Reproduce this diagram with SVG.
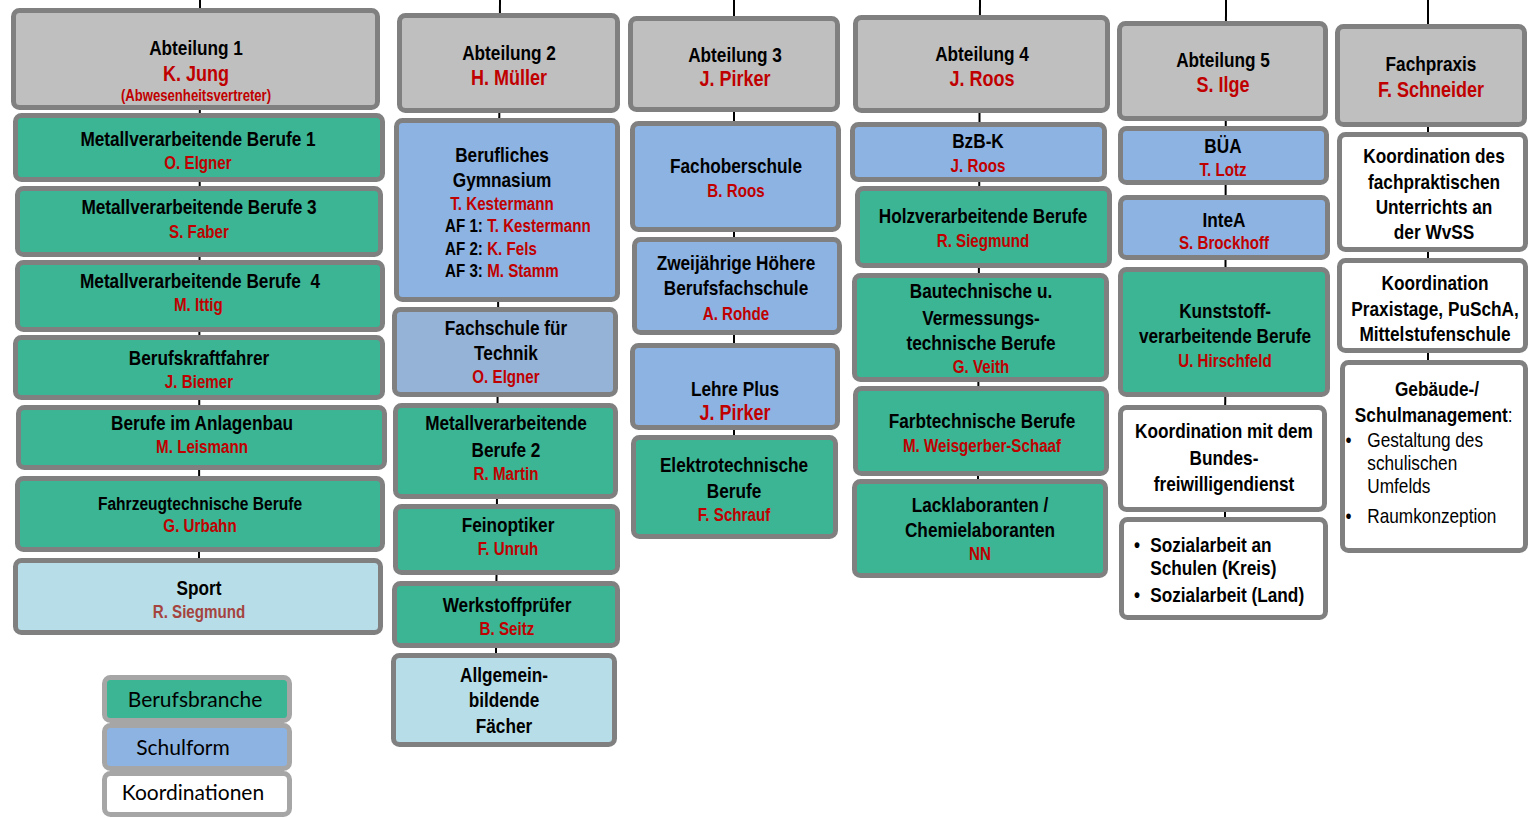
<svg xmlns="http://www.w3.org/2000/svg" width="1528" height="818" viewBox="0 0 1528 818">
<style>
text{font-family:"Liberation Sans Narrow","Arial Narrow","Liberation Sans",sans-serif;font-weight:bold;text-anchor:middle;fill:#000}
.b{stroke:#808080;stroke-width:5}
.g{fill:#BFBFBF}.gr{fill:#3BB594}.bl{fill:#8DB3E2}.bl2{fill:#95B3D7}.lb{fill:#B7DEE8}.w{fill:#FFFFFF}
.t{font-size:21px}.s{font-size:19px}
.h{font-size:22px;fill:#C00000}.n{font-size:18.5px;fill:#C00000}.r{fill:#C00000}
.sm{font-size:16px;fill:#C00000}
.lg{font-family:Lato,"Open Sans",sans-serif;font-weight:normal;font-size:21px}
.lgb{stroke:#A6A6A6;stroke-width:5}
.reg{font-weight:normal}
.l{text-anchor:start}
.c line{stroke:#000;stroke-width:2}
</style>
<g id="connectors" class="c">
<line x1="200" y1="0" x2="199" y2="560"/>
<line x1="500" y1="0" x2="496" y2="655"/>
<line x1="734" y1="0" x2="734" y2="437"/>
<line x1="980" y1="0" x2="978" y2="481"/>
<line x1="1226" y1="0" x2="1225" y2="519"/>
<line x1="1428" y1="0" x2="1428" y2="362"/>
</g>

<!-- Column 1 -->
<g id="abt1"><rect class="b g" x="13.5" y="10.5" width="364" height="97" rx="6"/>
<g transform="translate(196 0) scale(.82 1)"><text class="t" x="0" y="55">Abteilung 1</text><text class="h" x="0" y="81">K. Jung</text><text class="sm" x="0" y="101">(Abwesenheitsvertreter)</text></g></g>
<g id="mb1"><rect class="b gr" x="15.5" y="115.5" width="367" height="64" rx="6"/>
<g transform="translate(198 0) scale(.82 1)"><text class="t" x="0" y="146">Metallverarbeitende Berufe 1</text><text class="n" x="0" y="169">O. Elgner</text></g></g>
<g id="mb3"><rect class="b gr" x="17.5" y="188.5" width="363" height="66" rx="6"/>
<g transform="translate(199 0) scale(.82 1)"><text class="t" x="0" y="214">Metallverarbeitende Berufe 3</text><text class="n" x="0" y="238">S. Faber</text></g></g>
<g id="mb4"><rect class="b gr" x="17.5" y="262.5" width="365" height="67" rx="6"/>
<g transform="translate(200 0) scale(.82 1)"><text class="t" x="0" y="288" xml:space="preserve">Metallverarbeitende Berufe  4</text><text class="n" x="-2" y="311">M. Ittig</text></g></g>
<g id="bkf"><rect class="b gr" x="15.5" y="337.5" width="367" height="60" rx="6"/>
<g transform="translate(199 0) scale(.82 1)"><text class="t" x="0" y="365">Berufskraftfahrer</text><text class="n" x="0" y="388">J. Biemer</text></g></g>
<g id="anlagenbau"><rect class="b gr" x="18.5" y="407.5" width="366" height="60" rx="6"/>
<g transform="translate(202 0) scale(.82 1)"><text class="t" x="0" y="430">Berufe im Anlagenbau</text><text class="n" x="0" y="453">M. Leismann</text></g></g>
<g id="fahrzeug"><rect class="b gr" x="17.5" y="478.5" width="365" height="71" rx="6"/>
<g transform="translate(200 0) scale(.82 1)"><text class="s" x="0" y="510">Fahrzeugtechnische Berufe</text><text class="n" x="0" y="532">G. Urbahn</text></g></g>
<g id="sport"><rect class="b lb" x="15.5" y="560.5" width="365" height="72" rx="6"/>
<g transform="translate(199 0) scale(.82 1)"><text class="t" x="0" y="595">Sport</text><text class="n" x="0" y="618" style="fill:#A5443F">R. Siegmund</text></g></g>

<!-- Column 2 -->
<g id="abt2"><rect class="b g" x="399.5" y="15.5" width="218" height="95" rx="6"/>
<g transform="translate(509 0) scale(.82 1)"><text class="t" x="0" y="60">Abteilung 2</text><text class="h" x="0" y="85">H. Müller</text></g></g>
<g id="bg"><rect class="b bl" x="396.5" y="120.5" width="221" height="179" rx="6"/>
<g transform="translate(502 0) scale(.82 1)"><text class="t" x="0" y="162">Berufliches</text><text class="t" x="0" y="187">Gymnasium</text>
<text class="n" x="0" y="210">T. Kestermann</text>
<text class="n l" x="-69.5" y="232"><tspan style="fill:#000">AF 1: </tspan>T. Kestermann</text>
<text class="n l" x="-69.5" y="255"><tspan style="fill:#000">AF 2: </tspan>K. Fels</text>
<text class="n l" x="-69.5" y="277"><tspan style="fill:#000">AF 3: </tspan>M. Stamm</text></g></g>
<g id="fst"><rect class="b bl2" x="394.5" y="309.5" width="221" height="85" rx="6"/>
<g transform="translate(506 0) scale(.82 1)"><text class="t" x="0" y="335">Fachschule für</text><text class="t" x="0" y="360">Technik</text><text class="n" x="0" y="383">O. Elgner</text></g></g>
<g id="mb2"><rect class="b gr" x="395.5" y="405.5" width="220" height="91" rx="6"/>
<g transform="translate(506 0) scale(.82 1)"><text class="t" x="0" y="430">Metallverarbeitende</text><text class="t" x="0" y="457">Berufe 2</text><text class="n" x="0" y="480">R. Martin</text></g></g>
<g id="feinoptiker"><rect class="b gr" x="395.5" y="506.5" width="222" height="66" rx="6"/>
<g transform="translate(508 0) scale(.82 1)"><text class="t" x="0" y="532">Feinoptiker</text><text class="n" x="0" y="555">F. Unruh</text></g></g>
<g id="werkstoff"><rect class="b gr" x="394.5" y="583.5" width="223" height="62" rx="6"/>
<g transform="translate(507 0) scale(.82 1)"><text class="t" x="0" y="612">Werkstoffprüfer</text><text class="n" x="0" y="635">B. Seitz</text></g></g>
<g id="allgemein"><rect class="b lb" x="393.5" y="655.5" width="221" height="89" rx="6"/>
<g transform="translate(504 0) scale(.82 1)"><text class="t" x="0" y="682">Allgemein-</text><text class="t" x="0" y="707">bildende</text><text class="t" x="0" y="733">Fächer</text></g></g>

<!-- Column 3 -->
<g id="abt3"><rect class="b g" x="630.5" y="18.5" width="207" height="91" rx="6"/>
<g transform="translate(735 0) scale(.82 1)"><text class="t" x="0" y="62">Abteilung 3</text><text class="h" x="0" y="86">J. Pirker</text></g></g>
<g id="fos"><rect class="b bl" x="632.5" y="123.5" width="206" height="106" rx="6"/>
<g transform="translate(736 0) scale(.82 1)"><text class="t" x="0" y="173">Fachoberschule</text><text class="n" x="0" y="197">B. Roos</text></g></g>
<g id="hbfs"><rect class="b bl" x="634.5" y="239.5" width="205" height="93" rx="6"/>
<g transform="translate(736 0) scale(.82 1)"><text class="t" x="0" y="270">Zweijährige Höhere</text><text class="t" x="0" y="295">Berufsfachschule</text><text class="n" x="0" y="320">A. Rohde</text></g></g>
<g id="lehreplus"><rect class="b bl" x="632.5" y="345.5" width="205" height="82" rx="6"/>
<g transform="translate(735 0) scale(.82 1)"><text class="t" x="0" y="396">Lehre Plus</text><text class="h" x="0" y="420">J. Pirker</text></g></g>
<g id="elektro"><rect class="b gr" x="633.5" y="437.5" width="202" height="99" rx="6"/>
<g transform="translate(734 0) scale(.82 1)"><text class="t" x="0" y="472">Elektrotechnische</text><text class="t" x="0" y="498">Berufe</text><text class="n" x="0" y="521">F. Schrauf</text></g></g>

<!-- Column 4 -->
<g id="abt4"><rect class="b g" x="855.5" y="17.5" width="252" height="93" rx="6"/>
<g transform="translate(982 0) scale(.82 1)"><text class="t" x="0" y="61">Abteilung 4</text><text class="h" x="0" y="86">J. Roos</text></g></g>
<g id="bzbk"><rect class="b bl" x="852.5" y="124.5" width="252" height="55" rx="6"/>
<g transform="translate(978 0) scale(.82 1)"><text class="t" x="0" y="148">BzB-K</text><text class="n" x="0" y="172">J. Roos</text></g></g>
<g id="holz"><rect class="b gr" x="857.5" y="188.5" width="252" height="77" rx="6"/>
<g transform="translate(983 0) scale(.82 1)"><text class="t" x="0" y="223">Holzverarbeitende Berufe</text><text class="n" x="0" y="247">R. Siegmund</text></g></g>
<g id="bau"><rect class="b gr" x="854.5" y="275.5" width="252" height="104" rx="6"/>
<g transform="translate(981 0) scale(.82 1)"><text class="t" x="0" y="298">Bautechnische u.</text><text class="t" x="0" y="325">Vermessungs-</text><text class="t" x="0" y="350">technische Berufe</text><text class="n" x="0" y="373">G. Veith</text></g></g>
<g id="farb"><rect class="b gr" x="855.5" y="388.5" width="251" height="85" rx="6"/>
<g transform="translate(982 0) scale(.82 1)"><text class="t" x="0" y="428">Farbtechnische Berufe</text><text class="n" x="0" y="452">M. Weisgerber-Schaaf</text></g></g>
<g id="lack"><rect class="b gr" x="854.5" y="481.5" width="251" height="94" rx="6"/>
<g transform="translate(980 0) scale(.82 1)"><text class="t" x="0" y="512">Lacklaboranten /</text><text class="t" x="0" y="537">Chemielaboranten</text><text class="n" x="0" y="560">NN</text></g></g>

<!-- Column 5 -->
<g id="abt5"><rect class="b g" x="1119.5" y="23.5" width="206" height="95" rx="6"/>
<g transform="translate(1223 0) scale(.82 1)"><text class="t" x="0" y="67">Abteilung 5</text><text class="h" x="0" y="92">S. Ilge</text></g></g>
<g id="bua"><rect class="b bl" x="1120.5" y="128.5" width="206" height="54" rx="6"/>
<g transform="translate(1223 0) scale(.82 1)"><text class="t" x="0" y="153">BÜA</text><text class="n" x="0" y="176">T. Lotz</text></g></g>
<g id="intea"><rect class="b bl" x="1120.5" y="197.5" width="207" height="60" rx="6"/>
<g transform="translate(1224 0) scale(.82 1)"><text class="t" x="0" y="227">InteA</text><text class="n" x="0" y="249">S. Brockhoff</text></g></g>
<g id="kunststoff"><rect class="b gr" x="1120.5" y="269.5" width="207" height="125" rx="6"/>
<g transform="translate(1225 0) scale(.82 1)"><text class="t" x="0" y="318">Kunststoff-</text><text class="t" x="0" y="343">verarbeitende Berufe</text><text class="n" x="0" y="367">U. Hirschfeld</text></g></g>
<g id="bfd"><rect class="b w" x="1120.5" y="407.5" width="204" height="102" rx="6"/>
<g transform="translate(1224 0) scale(.82 1)"><text class="t" x="0" y="438">Koordination mit dem</text><text class="t" x="0" y="465">Bundes-</text><text class="t" x="0" y="491">freiwilligendienst</text></g></g>
<g id="sozial"><rect class="b w" x="1121.5" y="519.5" width="204" height="98" rx="6"/>
<g transform="translate(1224 0) scale(.82 1)"><text class="t" x="-106" y="552">•</text><text class="t l" x="-90" y="552">Sozialarbeit an</text>
<text class="t l" x="-90" y="575">Schulen (Kreis)</text>
<text class="t" x="-106" y="602">•</text><text class="t l" x="-90" y="602">Sozialarbeit (Land)</text></g></g>

<!-- Column 6 -->
<g id="fachpraxis"><rect class="b g" x="1337.5" y="26.5" width="187" height="98" rx="6"/>
<g transform="translate(1431 0) scale(.82 1)"><text class="t" x="0" y="71">Fachpraxis</text><text class="h" x="0" y="97">F. Schneider</text></g></g>
<g id="koord1"><rect class="b w" x="1339.5" y="134.5" width="186" height="115" rx="6"/>
<g transform="translate(1434 0) scale(.82 1)"><text class="t" x="0" y="163">Koordination des</text><text class="t" x="0" y="189">fachpraktischen</text><text class="t" x="0" y="214">Unterrichts an</text><text class="t" x="0" y="239">der WvSS</text></g></g>
<g id="koord2"><rect class="b w" x="1339.5" y="260.5" width="186" height="90" rx="6"/>
<g transform="translate(1435 0) scale(.82 1)"><text class="t" x="0" y="290">Koordination</text><text class="t" x="0" y="316">Praxistage, PuSchA,</text><text class="t" x="0" y="341">Mittelstufenschule</text></g></g>
<g id="gebaeude"><rect class="b w" x="1342.5" y="362.5" width="183" height="188" rx="6"/>
<g transform="translate(1437 0) scale(.82 1)"><text class="t" x="0" y="396">Gebäude-/</text><text class="t" x="-4" y="422">Schulmanagement<tspan class="reg">:</tspan></text>
<text class="t reg" x="-108" y="447">•</text><text class="t reg l" x="-85" y="447">Gestaltung des</text>
<text class="t reg l" x="-85" y="470">schulischen</text>
<text class="t reg l" x="-85" y="493">Umfelds</text>
<text class="t reg" x="-108" y="523">•</text><text class="t reg l" x="-85" y="523">Raumkonzeption</text></g></g>

<!-- Legend -->
<g id="legend-berufsbranche"><rect class="lgb gr" x="104.5" y="677.5" width="185" height="43" rx="6"/>
<text class="lg" x="195" y="707">Berufsbranche</text></g>
<g id="legend-schulform"><rect class="lgb bl" x="104.5" y="725.5" width="185" height="43" rx="6"/>
<text class="lg" x="183" y="755">Schulform</text></g>
<g id="legend-koordinationen"><rect class="lgb w" x="104.5" y="773.5" width="185" height="41" rx="6"/>
<text class="lg" x="193" y="800">Koordinationen</text></g>
</svg>
